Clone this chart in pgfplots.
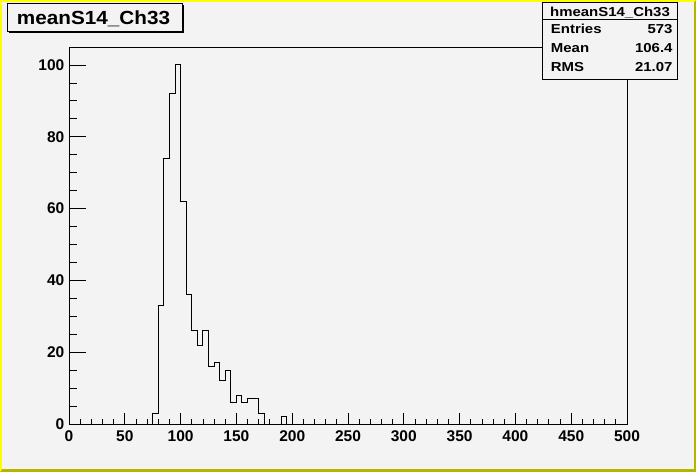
\documentclass[border=0pt]{standalone}
\usepackage{fontspec}
\setmainfont{Liberation Sans}
\usepackage{pgfplots}
\pgfplotsset{compat=1.18}
\definecolor{bg}{HTML}{F3F3F3}
\definecolor{yel}{HTML}{FFFF00}
\definecolor{oli}{HTML}{B5B500}
\newcommand{\tl}{\fontsize{15.5}{16}\selectfont\bfseries}
\begin{document}
\begin{tikzpicture}[x=1pt,y=1pt]
\fill[oli] (0,0) rectangle (696,472);
\fill[yel] (0,0) -- (0,472) -- (696,472) -- (694,470) -- (2,470) -- (2,3) -- cycle;
\fill[bg] (2,3) rectangle (694,470);
\begin{axis}[at={(69pt,48pt)}, anchor=south west, scale only axis,
  width=558pt, height=377pt, xmin=0, xmax=500, ymin=0, ymax=105,
  xtick={0,50,...,500}, minor x tick num=4, ytick=\empty,
  xtick pos=left, tick align=inside,
  major tick length=10.7pt, minor tick length=5.3pt,
  tick style={black, line width=0.8pt},
  axis line style={black, line width=0.8pt},
  /pgf/number format/assume math mode=true,
  xticklabel style={font=\tl, inner sep=0pt, yshift=-6.5pt},
  clip=false]
\addplot[const plot mark left, black, line width=1.0pt] coordinates {
(0,0) (75,3) (80,33) (85,74) (90,92) (95,100) (100,62) (105,36) (110,26)
(115,22) (120,26) (125,16) (130,17) (135,12) (140,15) (145,6) (150,8)
(155,6) (160,7) (165,7) (170,3) (175,0) (190,2) (195,0) (500,0)};
\end{axis}
\begin{axis}[at={(69pt,48pt)}, anchor=south west, scale only axis,
  width=558pt, height=377pt, xmin=0, xmax=500, ymin=0, ymax=105,
  xtick=\empty, ytick={0,20,...,100}, minor y tick num=3,
  ytick pos=left, tick align=inside,
  major tick length=16.7pt, minor tick length=8pt,
  tick style={black, line width=0.8pt},
  axis line style={draw=none},
  /pgf/number format/assume math mode=true,
  yticklabel style={font=\tl, inner sep=0pt, xshift=-4.5pt}]
\end{axis}
% title box
\fill[black] (9,438.8) rectangle (184.4,467.2);
\filldraw[fill=bg, draw=black, line width=0.8pt] (7.3,440.3) rectangle (182.7,468.7);
\node[anchor=base, inner sep=0pt, xscale=1.09] at (93.5,447) {\fontsize{19}{20}\selectfont\bfseries meanS14\_Ch33};
% stats box
\filldraw[fill=bg, draw=black, line width=0.8pt] (542.7,393) rectangle (677,469.5);
\draw[black, line width=0.8pt] (542.7,452.5) -- (677,452.5);
\node[anchor=base, inner sep=0pt, xscale=1.15] at (610,455) {\fontsize{13}{14}\selectfont\bfseries hmeanS14\_Ch33};
\node[anchor=base west, inner sep=0pt, xscale=1.15] at (550.7,438) {\fontsize{13}{14}\selectfont\bfseries Entries};
\node[anchor=base east, inner sep=0pt, xscale=1.15] at (672.7,438) {\fontsize{13}{14}\selectfont\bfseries 573};
\node[anchor=base west, inner sep=0pt, xscale=1.15] at (550.7,419) {\fontsize{13}{14}\selectfont\bfseries Mean};
\node[anchor=base east, inner sep=0pt, xscale=1.15] at (672.7,419) {\fontsize{13}{14}\selectfont\bfseries 106.4};
\node[anchor=base west, inner sep=0pt, xscale=1.15] at (550.7,400) {\fontsize{13}{14}\selectfont\bfseries RMS};
\node[anchor=base east, inner sep=0pt, xscale=1.15] at (672.7,400) {\fontsize{13}{14}\selectfont\bfseries 21.07};
\end{tikzpicture}
\end{document}
